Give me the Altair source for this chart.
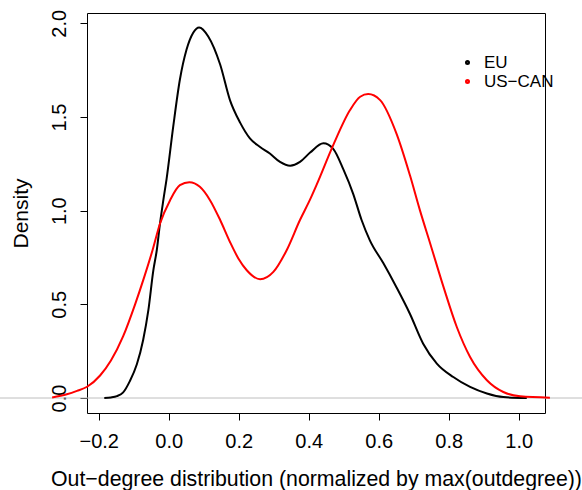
import altair as alt
import pandas as pd

# ---- data ----
eu_x = [-0.184, -0.165, -0.148, -0.130, -0.111, -0.091, -0.073, -0.058, -0.044, -0.034,
        -0.025, -0.015, -0.006, 0.013, 0.032, 0.051, 0.070, 0.087, 0.113, 0.147,
        0.175, 0.204, 0.232, 0.261, 0.289, 0.318, 0.347, 0.375, 0.404, 0.442,
        0.470, 0.499, 0.527, 0.551, 0.575, 0.613, 0.651, 0.689, 0.727, 0.766,
        0.813, 0.861, 0.909, 0.956, 1.023]
eu_y = [0.000, 0.003, 0.010, 0.030, 0.090, 0.180, 0.310, 0.470, 0.680, 0.790,
        0.930, 1.060, 1.170, 1.450, 1.700, 1.860, 1.950, 1.978, 1.930, 1.780,
        1.590, 1.470, 1.386, 1.340, 1.305, 1.260, 1.240, 1.260, 1.310, 1.360,
        1.330, 1.220, 1.090, 0.950, 0.840, 0.720, 0.590, 0.450, 0.290, 0.184,
        0.112, 0.059, 0.024, 0.005, 0.000]

us_x = [-0.333, -0.291, -0.262, -0.233, -0.196, -0.165, -0.130, -0.096, -0.070, -0.046,
        -0.025, 0.004, 0.032, 0.059, 0.089, 0.118, 0.147, 0.175, 0.199, 0.223,
        0.261, 0.299, 0.337, 0.375, 0.404, 0.423, 0.470, 0.518, 0.547, 0.570,
        0.604, 0.651, 0.689, 0.718, 0.747, 0.785, 0.823, 0.861, 0.909, 0.956,
        1.004, 1.089]
us_y = [0.003, 0.020, 0.038, 0.060, 0.120, 0.200, 0.330, 0.500, 0.645, 0.790,
        0.930, 1.056, 1.136, 1.152, 1.127, 1.056, 0.950, 0.833, 0.745, 0.682,
        0.634, 0.673, 0.789, 0.950, 1.060, 1.140, 1.350, 1.537, 1.608, 1.622,
        1.590, 1.410, 1.190, 1.000, 0.825, 0.593, 0.379, 0.219, 0.095, 0.032,
        0.009, 0.002]

series_names = ["EU", "US\u2212CAN"]
series_colors = ["black", "red"]
x_ticks = [-0.2, 0.0, 0.2, 0.4, 0.6, 0.8, 1.0]
y_ticks = [0.0, 0.5, 1.0, 1.5, 2.0]

df = pd.concat([
    pd.DataFrame({"x": eu_x, "y": eu_y, "region": series_names[0]}),
    pd.DataFrame({"x": us_x, "y": us_y, "region": series_names[1]}),
])

FONT = "Liberation Sans"

xscale = alt.Scale(domain=[-0.2334, 1.075], nice=False, zero=False)
yscale = alt.Scale(domain=[-0.080, 2.055], nice=False, zero=False)

xaxis = alt.Axis(values=x_ticks, format=".1f", grid=False, domain=False,
                 tickColor="black", tickSize=7, tickWidth=1,
                 labelFont=FONT, labelFontSize=20, labelColor="black",
                 labelBaseline="alphabetic", labelPadding=27,
                 title="Out\u2212degree distribution (normalized by max(outdegree))",
                 titleFont=FONT, titleFontSize=21.3, titleFontWeight="normal",
                 titleColor="black", titleBaseline="alphabetic", titleY=72)
yaxis = alt.Axis(values=y_ticks, format=".1f", grid=False, domain=False,
                 tickColor="black", tickSize=7, tickWidth=1,
                 labelFont=FONT, labelFontSize=20, labelColor="black",
                 labelAngle=270, labelAlign="center", labelBaseline="alphabetic",
                 labelPadding=15,
                 title="Density", titleFont=FONT, titleFontSize=21,
                 titleFontWeight="normal", titleColor="black", titleAngle=270,
                 titleAlign="center", titleBaseline="alphabetic",
                 titleX=-60, titleY=200)

zero_line = alt.Chart(pd.DataFrame({"h": [0.0]})).mark_rule(
    color="#bebebe", strokeWidth=1, clip=False
).encode(
    y=alt.Y("h:Q", scale=yscale, axis=yaxis),
    x=alt.value(-87), x2=alt.value(495),
)

lines = alt.Chart(df).mark_line(strokeWidth=2, clip=False, interpolate="monotone").encode(
    x=alt.X("x:Q", scale=xscale, axis=xaxis),
    y=alt.Y("y:Q", scale=yscale, axis=yaxis),
    color=alt.Color("region:N",
                    scale=alt.Scale(domain=series_names, range=series_colors),
                    sort=series_names,
                    legend=alt.Legend(title=None, orient="none", legendX=372, legendY=41,
                                      symbolType="circle", symbolSize=8,
                                      symbolStrokeWidth=2.2, labelFont=FONT,
                                      labelFontSize=17, labelColor="black",
                                      labelOffset=8, rowPadding=1, padding=0)),
)

chart = alt.layer(zero_line, lines).properties(
    width=458, height=400,
    padding={"left": 87, "top": 13, "right": 37, "bottom": 77},
    autosize=alt.AutoSizeParams(type="none"),
    background="white",
).configure_view(stroke="black", strokeWidth=1)

chart.save("out.html", embed_options={"renderer": "svg", "actions": False})
